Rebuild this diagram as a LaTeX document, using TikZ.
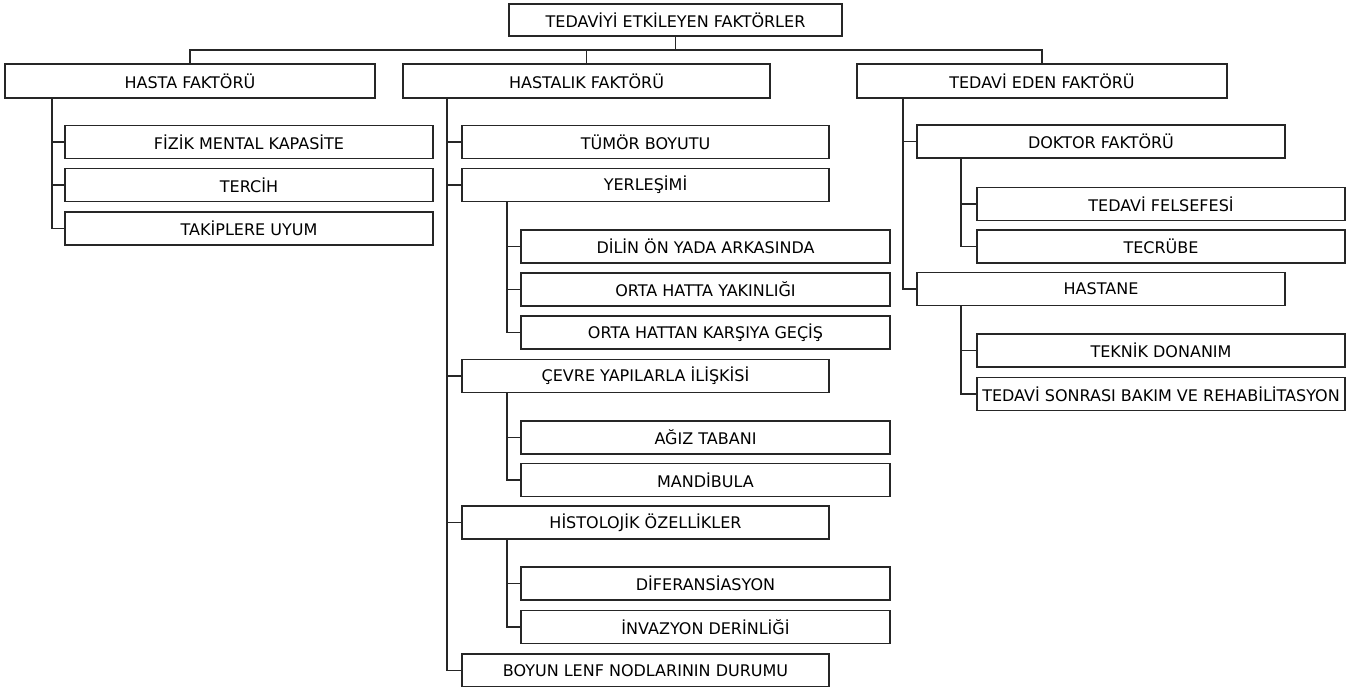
\documentclass[tikz,border=0pt]{standalone}
\usepackage{fontspec}
\setmainfont{DejaVu Sans}
\begin{document}
\begin{tikzpicture}[x=1pt,y=-1pt,
  box/.style={draw=black!85, line width=1.3pt, inner sep=0pt, anchor=center,
    minimum height=33pt, font=\fontsize{16}{19}\selectfont},
  w1/.style={box, minimum width=#1pt},
  conn/.style={draw=black!85, line width=1.3pt}]
\useasboundingbox (0,0) rectangle (1356,686);
\fill[white] (0,0) rectangle (1356,686);
% level 0
\node[w1=333, minimum height=32pt] (root) at (675.5,20) {TEDAVİYİ ETKİLEYEN FAKTÖRLER};
% level 1
\node[w1=370, minimum height=34pt] (hasta) at (190,81) {HASTA FAKTÖRÜ};
\node[w1=367, minimum height=34pt] (hastalik) at (586.5,81) {HASTALIK FAKTÖRÜ};
\node[w1=370, minimum height=34pt] (eden) at (1042,81) {TEDAVİ EDEN FAKTÖRÜ};
% hasta children
\node[w1=368] (fizik) at (249,142) {FİZİK MENTAL KAPASİTE};
\node[w1=368] (tercih) at (249,185) {TERCİH};
\node[w1=368] (takip) at (249,228.5) {TAKİPLERE UYUM};
% hastalik children
\node[w1=367] (tumor) at (645.5,142) {TÜMÖR BOYUTU};
\node[w1=367] (yer) at (645.5,185) {YERLEŞİMİ};
\node[w1=369] (dilin) at (705.5,246.5) {DİLİN ÖN YADA ARKASINDA};
\node[w1=369] (orta1) at (705.5,289.5) {ORTA HATTA YAKINLIĞI};
\node[w1=369] (orta2) at (705.5,332.5) {ORTA HATTAN KARŞIYA GEÇİŞ};
\node[w1=367] (cevre) at (645.5,376) {ÇEVRE YAPILARLA İLİŞKİSİ};
\node[w1=369] (agiz) at (705.5,437.5) {AĞIZ TABANI};
\node[w1=369] (mand) at (705.5,480) {MANDİBULA};
\node[w1=367] (histo) at (645.5,522.5) {HİSTOLOJİK ÖZELLİKLER};
\node[w1=369] (dif) at (705.5,583.5) {DİFERANSİASYON};
\node[w1=369] (inv) at (705.5,627) {İNVAZYON DERİNLİĞİ};
\node[w1=367] (boyun) at (645.5,670.5) {BOYUN LENF NODLARININ DURUMU};
% eden children
\node[w1=368] (doktor) at (1101,141.5) {DOKTOR FAKTÖRÜ};
\node[w1=368] (felsefe) at (1161,204) {TEDAVİ FELSEFESİ};
\node[w1=368] (tecrube) at (1161,246.5) {TECRÜBE};
\node[w1=368] (hastane) at (1101,289) {HASTANE};
\node[w1=368] (teknik) at (1161,350.5) {TEKNİK DONANIM};
\node[w1=368] (sonra) at (1161,394) {TEDAVİ SONRASI BAKIM VE REHABİLİTASYON};
% stem coordinates
\coordinate (bus) at (0,50);
\coordinate (sHasta) at (52,0);
\coordinate (sHastalik) at (447,0);
\coordinate (sSub) at (507,0);
\coordinate (sEden) at (903,0);
\coordinate (sDok) at (961,0);
% connectors
\draw[conn] (root.south) -- (root.south |- bus);
\draw[conn] (hasta.north) |- (bus -| eden.north) -- (eden.north);
\draw[conn] (hastalik.north) -- (hastalik.north |- bus);
\foreach \c in {fizik,tercih,takip}
  \draw[conn] (hasta.south -| sHasta) |- (\c.west);
\foreach \c in {tumor,yer,cevre,histo,boyun}
  \draw[conn] (hastalik.south -| sHastalik) |- (\c.west);
\foreach \c in {dilin,orta1,orta2}
  \draw[conn] (yer.south -| sSub) |- (\c.west);
\foreach \c in {agiz,mand}
  \draw[conn] (cevre.south -| sSub) |- (\c.west);
\foreach \c in {dif,inv}
  \draw[conn] (histo.south -| sSub) |- (\c.west);
\foreach \c in {doktor,hastane}
  \draw[conn] (eden.south -| sEden) |- (\c.west);
\foreach \c in {felsefe,tecrube}
  \draw[conn] (doktor.south -| sDok) |- (\c.west);
\foreach \c in {teknik,sonra}
  \draw[conn] (hastane.south -| sDok) |- (\c.west);
\end{tikzpicture}
\end{document}
